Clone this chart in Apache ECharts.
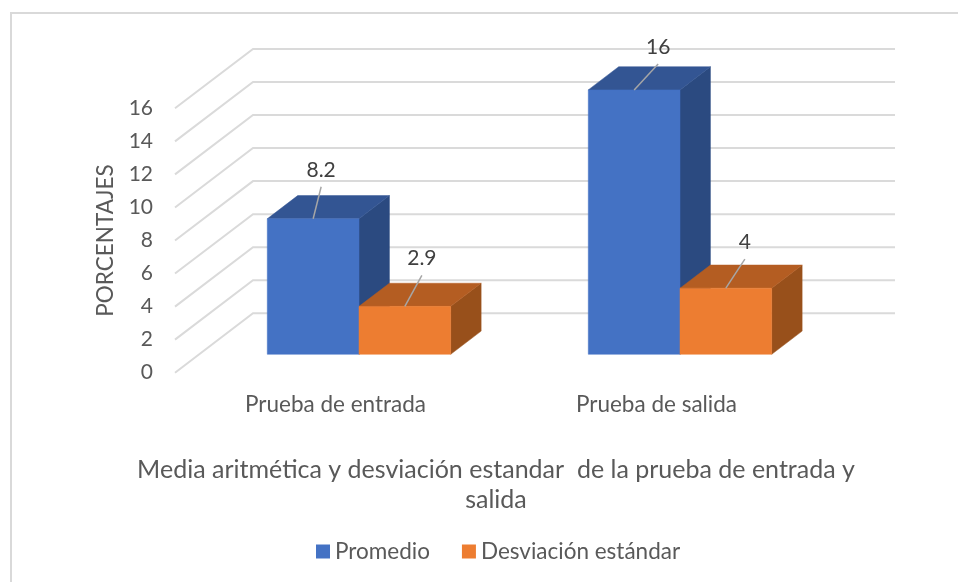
<!DOCTYPE html>
<html>
<head>
<meta charset="utf-8">
<title>Media aritmética y desviación estandar</title>
<script src="https://cdn.jsdelivr.net/npm/echarts@6/dist/echarts.min.js"></script>
<style>
  html, body { margin: 0; padding: 0; background: #fff; }
  #chart { width: 958px; height: 582px; }
</style>
</head>
<body>
<div id="chart"></div>
<script>
const categories = ['Prueba de entrada', 'Prueba de salida']
const promedio = [8.2, 16]
const desviacion = [2.9, 4]
const yTicks = [0, 2, 4, 6, 8, 10, 12, 14, 16]

const FONT = 'Lato'
const TEXT = '#595959'

// oblique depth of the fake 3d floor, in pixels
const DEPTH_X = 78
const DEPTH_Y = 59.4
const BAR_NEAR = 0.31
const BAR_FAR = 0.70
const BAR_WIDTH = 0.2857
const BAR_SHIFT = 23.5

// where the leader line of each label ends, relative to the bar's top centre
const leaderBlue = [[8, -32], [24, -26]]
const leaderOrange = [[17, -31], [19, -29]]

const chart = echarts.init(document.getElementById('chart'))

function renderWall(params, api) {
  const cs = params.coordSys
  const y = api.coord([0, api.value(0)])[1]
  return {
    type: 'polyline',
    silent: true,
    shape: {
      points: [
        [cs.x, y],
        [cs.x + DEPTH_X, y - DEPTH_Y],
        [cs.x + cs.width + DEPTH_X, y - DEPTH_Y]
      ]
    },
    style: {fill: null, stroke: '#dadada', lineWidth: 2}
  }
}

function makeBarRender(side, front, top, right, leaders) {
  return function (params, api) {
    const p = api.coord([api.value(0), api.value(1)])
    const base = api.coord([api.value(0), 0])
    const w = api.size([1, 0])[0] * BAR_WIDTH
    const x0 = base[0] + BAR_SHIFT + (side === 0 ? -w : 0)
    const x1 = x0 + w
    const yb = base[1] - DEPTH_Y * BAR_NEAR
    const yt = p[1] - DEPTH_Y * BAR_NEAR
    const dx = DEPTH_X * (BAR_FAR - BAR_NEAR)
    const dy = DEPTH_Y * (BAR_FAR - BAR_NEAR)
    const cx = (x0 + x1) / 2
    const lead = leaders[params.dataIndex]
    const poly = (points, fill) => ({
      type: 'polygon',
      shape: {points},
      style: {fill, stroke: fill, lineWidth: 0.5}
    })
    return {
      type: 'group',
      children: [
        poly([[x1, yb], [x1 + dx, yb - dy], [x1 + dx, yt - dy], [x1, yt]], right),
        poly([[x0, yt], [x0 + dx, yt - dy], [x1 + dx, yt - dy], [x1, yt]], top),
        poly([[x0, yb], [x1, yb], [x1, yt], [x0, yt]], front),
        {
          type: 'line',
          shape: {x1: cx, y1: yt, x2: cx + lead[0], y2: yt + lead[1]},
          style: {stroke: '#a6a6a6', lineWidth: 1.5}
        },
        {
          type: 'text',
          style: {
            text: String(api.value(1)),
            x: cx + lead[0],
            y: yt + lead[1] - 17,
            align: 'center',
            verticalAlign: 'middle',
            fontFamily: FONT,
            fontSize: 21,
            fill: '#404040'
          }
        }
      ]
    }
  }
}

chart.setOption({
  animation: false,
  textStyle: {fontFamily: FONT},
  graphic: [
    {
      type: 'line',
      silent: true,
      shape: {x1: 10, y1: 13, x2: 958, y2: 13},
      style: {stroke: '#d9d9d9', lineWidth: 2}
    },
    {
      type: 'line',
      silent: true,
      shape: {x1: 11, y1: 12, x2: 11, y2: 582},
      style: {stroke: '#d9d9d9', lineWidth: 2}
    }
  ],
  grid: {left: 175, right: 141, top: 108.3, bottom: 209.3},
  legend: {
    data: ['Promedio', 'Desviación estándar'],
    top: 535,
    left: 311,
    icon: 'rect',
    itemWidth: 14,
    itemHeight: 14,
    itemGap: 32,
    textStyle: {fontFamily: FONT, fontSize: 22.5, color: TEXT}
  },
  xAxis: {
    type: 'category',
    data: categories,
    axisLine: {show: false},
    axisTick: {show: false},
    axisLabel: {margin: 21, fontFamily: FONT, fontSize: 22.5, color: TEXT},
    name: 'Media aritmética y desviación estandar  de la prueba de entrada y\nsalida',
    nameLocation: 'middle',
    nameGap: 82,
    nameTextStyle: {fontFamily: FONT, fontSize: 25, color: TEXT, lineHeight: 30}
  },
  yAxis: {
    type: 'value',
    min: 0,
    max: 16,
    interval: 2,
    splitLine: {show: false},
    axisLine: {show: false},
    axisTick: {show: false},
    axisLabel: {margin: 22, padding: [7, 0, 0, 0], fontFamily: FONT, fontSize: 21, color: TEXT},
    name: 'PORCENTAJES',
    nameLocation: 'middle',
    nameGap: 57,
    nameTextStyle: {fontFamily: FONT, fontSize: 22.5, color: TEXT}
  },
  series: [
    {
      name: 'grid',
      type: 'custom',
      coordinateSystem: 'cartesian2d',
      renderItem: renderWall,
      data: yTicks.map(v => [v]),
      encode: {y: 0},
      z: 1,
      silent: true
    },
    {
      name: 'Promedio',
      type: 'custom',
      renderItem: makeBarRender(0, '#4472c4', '#335593', '#2b4a80', leaderBlue),
      itemStyle: {color: '#4472c4'},
      data: categories.map((c, i) => [i, promedio[i]]),
      encode: {x: 0, y: 1},
      z: 2,
      clip: false
    },
    {
      name: 'Desviación estándar',
      type: 'custom',
      renderItem: makeBarRender(1, '#ed7d31', '#b45d22', '#98501b', leaderOrange),
      itemStyle: {color: '#ed7d31'},
      data: categories.map((c, i) => [i, desviacion[i]]),
      encode: {x: 0, y: 1},
      z: 3,
      clip: false
    }
  ]
})
</script>
</body>
</html>
